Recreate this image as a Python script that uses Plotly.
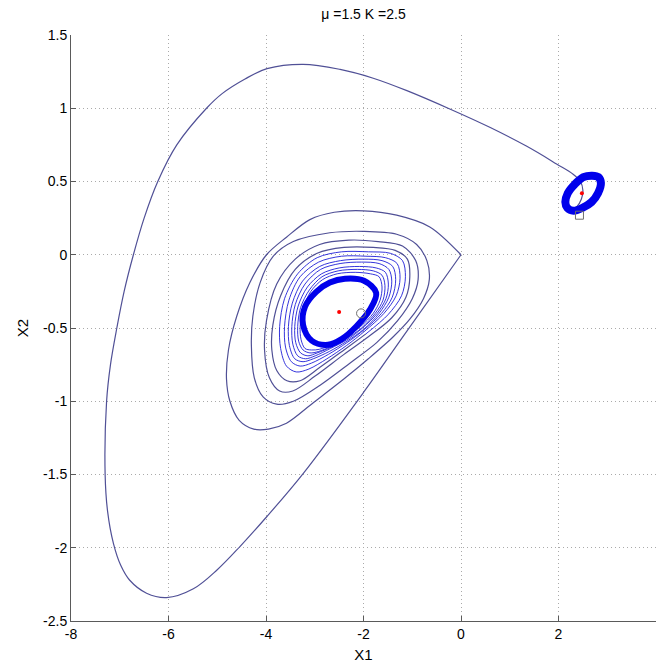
import plotly.graph_objects as go

# ---- Data ----
# Trajectory A: from (0,0) down-left, big loop, to the small limit cycle on the right
a_x = [0.0, -1.15, -2.0, -3.23, -3.99, -4.53, -5.0, -5.49, -6.04, -6.45, -6.80, -6.98, -7.13, -7.25,
       -7.30, -7.27, -7.19, -7.06, -6.91, -6.72, -6.50, -6.22, -5.83, -5.22, -4.90, -4.43, -3.98, -3.24,
       -2.48, -1.80, -1.11, -0.23, 0.59, 1.35, 1.96, 2.30, 2.45, 2.50, 2.47, 2.38, 2.27]
a_y = [0.0, -0.54, -0.94, -1.49, -1.79, -1.99, -2.15, -2.28, -2.34, -2.31, -2.22, -2.12, -1.97, -1.75,
       -1.50, -1.00, -0.75, -0.50, -0.25, 0.0, 0.25, 0.50, 0.75, 1.00, 1.10, 1.20, 1.27, 1.30,
       1.265, 1.205, 1.12, 0.995, 0.87, 0.74, 0.62, 0.55, 0.50, 0.44, 0.38, 0.33, 0.31]

# Trajectory B: outer revolutions of the spiral (sparse)
b_outer_x = [0.0, -0.64, -1.32, -2.0, -2.6, -3.10, -3.58, -3.99, -4.33, -4.60, -4.77, -4.81, -4.74,
             -4.55, -4.25, -3.95, -3.58, -3.03, -2.41, -1.90, -1.39, -1.05,
             -0.77, -0.65, -0.70, -0.91, -1.32, -2.0, -2.69, -3.44, -3.85, -4.12, -4.27, -4.30, -4.24,
             -4.06, -3.78, -3.44, -2.89, -2.28, -1.73,
             -1.30, -1.0, -0.88, -0.93, -1.2, -1.7, -2.3, -2.9, -3.4, -3.78, -3.99, -4.03, -3.93, -3.72,
             -3.45, -3.0, -2.4, -1.9,
             -1.42, -1.13, -1.05, -1.10, -1.35, -1.8, -2.4, -2.95, -3.4, -3.7, -3.86, -3.88, -3.78, -3.57,
             -3.3, -2.9, -2.4, -1.95]
b_outer_y = [0.0, 0.19, 0.27, 0.30, 0.29, 0.24, 0.12, 0.0, -0.19, -0.42, -0.65, -0.85, -1.0,
             -1.13, -1.19, -1.19, -1.15, -1.01, -0.85, -0.71, -0.56, -0.44,
             -0.30, -0.17, -0.04, 0.07, 0.14, 0.16, 0.15, 0.09, -0.01, -0.19, -0.42, -0.62, -0.84,
             -0.97, -1.02, -1.00, -0.89, -0.74, -0.60,
             -0.45, -0.30, -0.17, -0.04, 0.06, 0.09, 0.10, 0.07, -0.03, -0.20, -0.45, -0.65, -0.84, -0.93,
             -0.93, -0.83, -0.68, -0.56,
             -0.43, -0.29, -0.15, -0.03, 0.03, 0.05, 0.05, 0.01, -0.10, -0.28, -0.48, -0.65, -0.79, -0.86,
             -0.86, -0.77, -0.65, -0.54]

# Trajectory B: inner revolutions (dense, close to the limit cycle)
b_inner_x = [-1.95,
             -1.50, -1.22, -1.14, -1.20, -1.45, -1.90, -2.45, -2.95, -3.35, -3.62, -3.72, -3.70, -3.58, -3.38,
             -3.12, -2.75, -2.35, -1.97,
             -1.58, -1.33, -1.25, -1.31, -1.55, -1.95, -2.45, -2.92, -3.30, -3.53, -3.62, -3.60, -3.48, -3.30,
             -3.07, -2.72, -2.34, -1.98,
             -1.63, -1.41, -1.34, -1.40, -1.62, -2.00, -2.47, -2.90, -3.25, -3.46, -3.54, -3.52, -3.41, -3.24,
             -3.03, -2.70, -2.34, -2.00,
             -1.68, -1.48, -1.42, -1.48, -1.68, -2.04, -2.48, -2.88, -3.20, -3.40, -3.47, -3.45, -3.35, -3.19,
             -2.99, -2.68, -2.34, -2.02,
             -1.72, -1.54, -1.49, -1.55, -1.74, -2.08, -2.50, -2.86, -3.15, -3.34, -3.41, -3.39, -3.29, -3.14,
             -2.95, -2.66, -2.34, -2.04,
             -1.76, -1.60, -1.56, -1.62, -1.80, -2.12, -2.52, -2.85, -3.11, -3.29, -3.35, -3.33, -3.24, -3.10,
             -2.92, -2.64, -2.34, -2.06,
             -1.80, -1.66, -1.62, -1.68, -1.86, -2.17, -2.54, -2.84, -3.08, -3.24, -3.30, -3.28, -3.20, -3.07,
             -2.90, -2.63, -2.35, -2.08]
b_inner_y = [-0.54,
             -0.41, -0.28, -0.15, -0.04, 0.01, 0.02, 0.02, -0.02, -0.13, -0.30, -0.49, -0.64, -0.76, -0.80,
             -0.78, -0.71, -0.62, -0.52,
             -0.40, -0.28, -0.16, -0.06, -0.02, -0.01, -0.01, -0.05, -0.15, -0.31, -0.49, -0.63, -0.73, -0.76,
             -0.74, -0.68, -0.60, -0.51,
             -0.40, -0.29, -0.17, -0.08, -0.04, -0.03, -0.04, -0.08, -0.18, -0.33, -0.49, -0.62, -0.71, -0.73,
             -0.71, -0.66, -0.59, -0.51,
             -0.40, -0.29, -0.18, -0.10, -0.06, -0.05, -0.06, -0.10, -0.20, -0.34, -0.49, -0.61, -0.69, -0.71,
             -0.69, -0.64, -0.58, -0.50,
             -0.40, -0.30, -0.20, -0.12, -0.09, -0.08, -0.09, -0.13, -0.22, -0.35, -0.49, -0.60, -0.67, -0.69,
             -0.67, -0.63, -0.57, -0.50,
             -0.40, -0.31, -0.21, -0.14, -0.11, -0.10, -0.11, -0.15, -0.24, -0.36, -0.49, -0.59, -0.65, -0.67,
             -0.66, -0.62, -0.56, -0.49,
             -0.40, -0.31, -0.22, -0.15, -0.13, -0.12, -0.13, -0.17, -0.25, -0.37, -0.49, -0.58, -0.64, -0.65,
             -0.645, -0.61, -0.555, -0.48]

# Left limit cycle (thick band)
lc1_x = [-2.38, -1.99, -1.74, -1.87, -2.15, -2.44, -2.73, -3.06, -3.24, -3.20, -2.97, -2.69, -2.38]
lc1_y = [-0.164, -0.178, -0.26, -0.376, -0.49, -0.574, -0.615, -0.587, -0.478, -0.355, -0.253, -0.19, -0.164]

# Right limit cycle (thick band)
lc2_x = [2.82, 2.87, 2.81, 2.68, 2.49, 2.31, 2.18, 2.14, 2.19, 2.33, 2.51, 2.69, 2.82]
lc2_y = [0.53, 0.49, 0.42, 0.36, 0.32, 0.30, 0.32, 0.36, 0.42, 0.48, 0.53, 0.54, 0.53]

# Equilibria / start markers
eq_x = [-2.50, 2.48]
eq_y = [-0.39, 0.42]
circ_x = [-2.05]
circ_y = [-0.40]
sq_x = [2.43]
sq_y = [0.27]

# Tick labels (MATLAB style hyphen minus)
x_ticks = [-8, -6, -4, -2, 0, 2, 4]
x_tick_text = ["-8", "-6", "-4", "-2", "0", "2", "4"]
y_ticks = [-2.5, -2, -1.5, -1, -0.5, 0, 0.5, 1, 1.5]
y_tick_text = ["-2.5", "-2", "-1.5", "-1", "-0.5", "0", "0.5", "1", "1.5"]

SPARSE = "rgb(80,80,150)"
DENSE = "rgb(30,30,215)"
MARK = "rgb(110,110,110)"
FONT = "Liberation Sans, Arial, sans-serif"

fig = go.Figure()
fig.add_trace(go.Scatter(x=a_x, y=a_y, mode="lines",
                         line=dict(color=SPARSE, width=1.2, shape="spline", smoothing=1)))
fig.add_trace(go.Scatter(x=b_outer_x, y=b_outer_y, mode="lines",
                         line=dict(color=SPARSE, width=1.2, shape="spline", smoothing=0.9)))
fig.add_trace(go.Scatter(x=b_inner_x, y=b_inner_y, mode="lines",
                         line=dict(color=DENSE, width=0.9, shape="spline", smoothing=0.9)))
fig.add_trace(go.Scatter(x=lc1_x, y=lc1_y, mode="lines",
                         line=dict(color="rgb(0,0,235)", width=6, shape="spline", smoothing=1)))
fig.add_trace(go.Scatter(x=lc2_x, y=lc2_y, mode="lines",
                         line=dict(color="rgb(0,0,235)", width=8, shape="spline", smoothing=1)))
fig.add_trace(go.Scatter(x=eq_x, y=eq_y, mode="markers",
                         marker=dict(color="red", size=4, symbol="circle")))
fig.add_trace(go.Scatter(x=circ_x, y=circ_y, mode="markers",
                         marker=dict(color=MARK, size=9, symbol="circle-open",
                                     line=dict(color=MARK, width=1))))
fig.add_trace(go.Scatter(x=sq_x, y=sq_y, mode="markers",
                         marker=dict(color=MARK, size=8, symbol="square-open",
                                     line=dict(color=MARK, width=1))))

axis_common = dict(
    showgrid=True, gridcolor="rgb(170,170,170)", griddash="1px,3px", gridwidth=1,
    zeroline=False, showline=True, linecolor="rgb(90,90,90)", linewidth=1,
    ticks="inside", ticklen=5, tickcolor="rgb(90,90,90)",
    tickfont=dict(family=FONT, size=14, color="black"),
)

fig.update_layout(
    width=657, height=670,
    margin=dict(l=71, r=1, t=35, b=49),
    paper_bgcolor="white", plot_bgcolor="white",
    showlegend=False,
    title=dict(text="\u03bc =1.5 K =2.5", x=0.5, xref="paper", xanchor="center",
               y=1 - 14 / 670, yanchor="middle",
               font=dict(family=FONT, size=14, color="black")),
    xaxis=dict(range=[-8, 4], tickvals=x_ticks, ticktext=x_tick_text,
               title=dict(text="X1", standoff=8, font=dict(family=FONT, size=15, color="black")),
               **axis_common),
    yaxis=dict(range=[-2.5, 1.5], tickvals=y_ticks, ticktext=y_tick_text,
               title=dict(text="X2", standoff=10, font=dict(family=FONT, size=15, color="black")),
               **axis_common),
)

fig.write_html("out.html")
